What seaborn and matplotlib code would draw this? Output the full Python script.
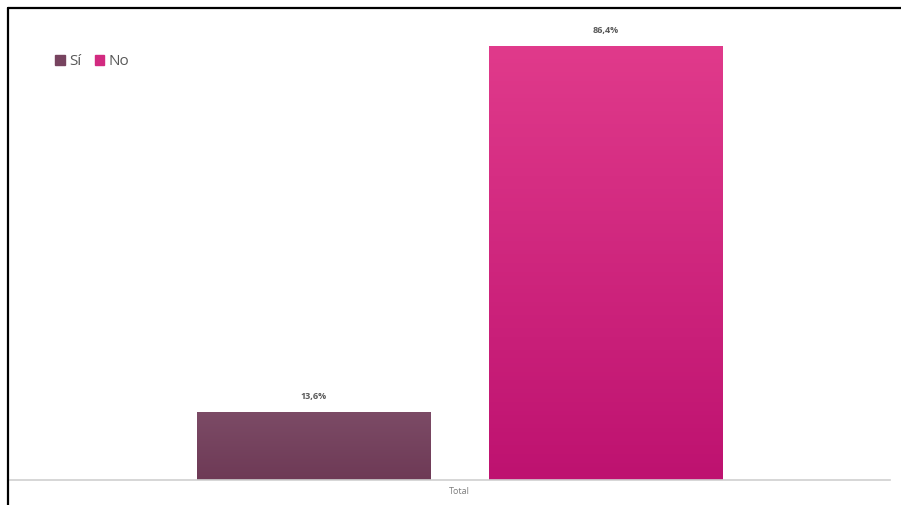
import numpy as np
import pandas as pd
import matplotlib
matplotlib.use('Agg')
import matplotlib.pyplot as plt
from matplotlib.lines import Line2D
from matplotlib.colors import LinearSegmentedColormap
import seaborn as sns

# datos
categorias = ['Total', 'Total']
respuestas = ['Sí', 'No']
porcentajes = [13.6, 86.4]
etiquetas = ['13,6%', '86,4%']

colores = {'Sí': '#77435F', 'No': '#D22A80'}
degradados = {'Sí': ('#7C4B66', '#6E3A56'), 'No': ('#E03A8B', '#BE1270')}

df = pd.DataFrame({'Categoria': categorias, 'Respuesta': respuestas, 'Porcentaje': porcentajes})

sns.set_style('white')
plt.rcParams['font.family'] = ['Open Sans', 'DejaVu Sans']

fig = plt.figure(figsize=(9.01, 5.05), dpi=100)
ax = fig.add_axes([10 / 901, 25 / 505, 880 / 901, 470 / 505])

sns.barplot(data=df, x='Categoria', y='Porcentaje', hue='Respuesta',
            palette=colores, gap=0.2, ax=ax, legend=False)

# degradado vertical dentro de cada barra
for barra, resp, etq in zip(ax.patches, respuestas, etiquetas):
    x0, y0 = barra.get_x(), barra.get_y()
    w, h = barra.get_width(), barra.get_height()
    cmap = LinearSegmentedColormap.from_list(resp, [degradados[resp][1], degradados[resp][0]])
    img = ax.imshow(np.linspace(0, 1, 100).reshape(-1, 1), cmap=cmap, aspect='auto',
                    extent=[x0, x0 + w, y0, y0 + h], origin='lower', zorder=barra.get_zorder())
    img.set_clip_path(barra)
    ax.text(x0 + w / 2, y0 + h + 2.2, etq, ha='center', va='bottom',
            fontsize=6.5, color='#595959', fontweight='bold')

ax.set_xlim(-0.616, 0.59)
ax.set_ylim(0, 93.6)

sns.despine(ax=ax, left=True, top=True, right=True)
ax.spines['bottom'].set_color('#CFCFCF')
ax.spines['bottom'].set_linewidth(1.2)
ax.set_yticks([])
ax.set_xlabel('')
ax.set_ylabel('')
ax.tick_params(axis='x', length=0, labelsize=6.5, labelcolor='#7F7F7F', pad=5)

# leyenda
handles = [plt.Rectangle((0, 0), 1, 1, color=colores[r]) for r in respuestas]
ax.legend(handles, respuestas, loc='upper left', bbox_to_anchor=(0.043, 0.922), ncol=2,
          frameon=False, fontsize=11, handlelength=0.6, handleheight=0.6, borderpad=0,
          handletextpad=0.3, columnspacing=0.9, labelcolor='#595959')

# marco negro de la captura
fig.add_artist(Line2D([8 / 901, 1], [1 - 8 / 505, 1 - 8 / 505], color='black', lw=1.6))
fig.add_artist(Line2D([8 / 901, 8 / 901], [0, 1 - 8 / 505], color='black', lw=1.6))

fig.savefig('out.png', dpi=100)
